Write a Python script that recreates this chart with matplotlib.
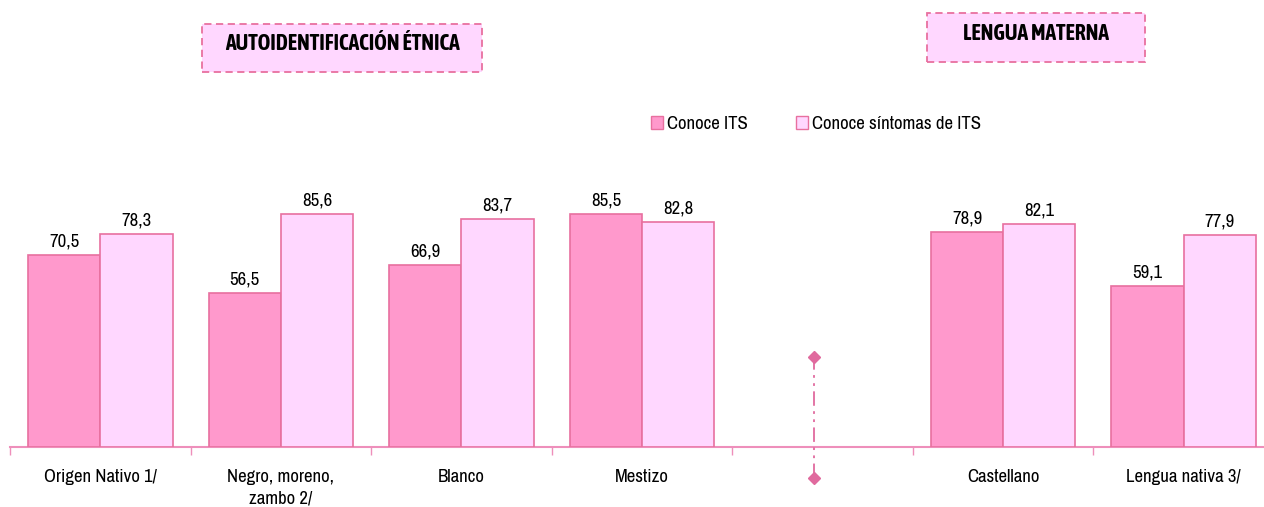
import matplotlib
matplotlib.use("Agg")
import matplotlib.pyplot as plt
import numpy as np
from matplotlib.patches import Rectangle, Patch

plt.rcParams['font.family'] = ['Archivo Narrow', 'Asap Condensed', 'DejaVu Sans']

categories = ["Origen Nativo 1/", "Negro, moreno,\nzambo 2/", "Blanco", "Mestizo", "",
              "Castellano", "Lengua nativa 3/"]
conoce_its = [70.5, 56.5, 66.9, 85.5, None, 78.9, 59.1]
conoce_sintomas = [78.3, 85.6, 83.7, 82.8, None, 82.1, 77.9]
series_names = ["Conoce ITS", "Conoce síntomas de ITS"]
group_titles = ["AUTOIDENTIFICACIÓN ÉTNICA", "LENGUA MATERNA"]

dark = "#FF99CC"
light = "#FFD7FF"
edge = "#E8709F"
axis_col = "#EE8FBB"
FS = 13.5

fig = plt.figure(figsize=(12.64, 5.07), dpi=100)
W, H = 1264, 507
left_px, right_px = 10, 1274
base_px, top_px = 447, 175
ax = fig.add_axes([left_px / W, 1 - base_px / H, (right_px - left_px) / W, (base_px - top_px) / H])
ax.set_xlim(-0.5, 6.5)
ax.set_ylim(0, 100)

w = 0.4
x = np.arange(len(categories))
for i in range(len(categories)):
    if conoce_its[i] is None:
        continue
    ax.bar(x[i] - w / 2, conoce_its[i], w, color=dark, edgecolor=edge, linewidth=1.2, zorder=3)
    ax.bar(x[i] + w / 2, conoce_sintomas[i], w, color=light, edgecolor=edge, linewidth=1.2, zorder=3)
    ax.text(x[i] - w / 2, conoce_its[i] + 2.0, f"{conoce_its[i]:.1f}".replace('.', ','),
            ha='center', va='bottom', fontsize=FS)
    ax.text(x[i] + w / 2, conoce_sintomas[i] + 2.0, f"{conoce_sintomas[i]:.1f}".replace('.', ','),
            ha='center', va='bottom', fontsize=FS)

for s in ['top', 'right', 'left']:
    ax.spines[s].set_visible(False)
ax.spines['bottom'].set_color(axis_col)
ax.spines['bottom'].set_linewidth(1.5)
ax.set_yticks([])
ax.set_xticks(np.arange(-0.5, 7.0, 1.0))
ax.set_xticklabels([])
ax.set_xticks(x, minor=True)
ax.set_xticklabels(categories, minor=True, fontsize=FS, linespacing=1.4)
ax.tick_params(axis='x', which='major', length=6, color=axis_col, width=1)
ax.tick_params(axis='x', which='minor', length=0, pad=16)

# separator line with diamonds
xs = 3.955
ax.plot([xs, xs], [-11.5, 33], color="#E06A9E", lw=1.3, ls=(0, (8, 3, 1.5, 3, 1.5, 3)), clip_on=False, zorder=4)
ax.plot([xs, xs], [-11.5, 33], ls='none', marker='D', ms=6, color="#E06A9E", clip_on=False, zorder=5)

# legend
handles = [Patch(facecolor=dark, edgecolor=edge), Patch(facecolor=light, edgecolor=edge)]
fig.legend(handles, series_names, loc='center', bbox_to_anchor=(816 / W, 1 - 124 / H), ncol=2,
           frameon=False, fontsize=FS, handlelength=0.65, handleheight=0.65, handletextpad=0.2,
           columnspacing=2.6)

# title boxes
def title_box(x0, y0, x1, y1, text):
    r = Rectangle((x0 / W, 1 - y1 / H), (x1 - x0) / W, (y1 - y0) / H, transform=fig.transFigure,
                  facecolor=light, edgecolor=edge, linewidth=1.3, linestyle=(0, (4, 2.5)))
    fig.add_artist(r)
    fig.text((x0 + x1) / 2 / W, 1 - ((y0 + y1) / 2 - 4) / H, text, ha='center', va='center',
             fontsize=15.5, fontweight='bold', family=['Asap Condensed', 'DejaVu Sans'])

title_box(202, 24, 482, 72, group_titles[0])
title_box(927, 13, 1145, 62, group_titles[1])

fig.savefig("out.png", dpi=100)
